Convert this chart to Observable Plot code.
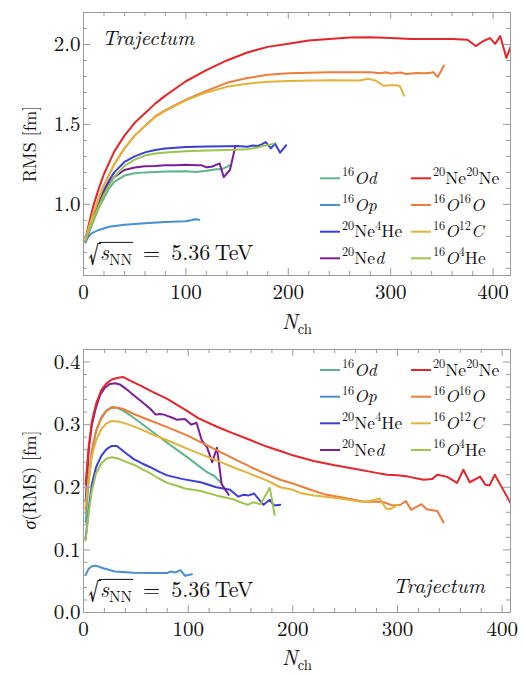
<!DOCTYPE html>
<html>
<head>
<meta charset="utf-8">
<script src="https://cdn.jsdelivr.net/npm/d3@7"></script>
<script src="https://cdn.jsdelivr.net/npm/@observablehq/plot@0.6"></script>
<style>
  html, body { margin: 0; padding: 0; background: white; }
  #fig svg { display: block; }
</style>
</head>
<body>
<div id="fig"></div>
<script>
// ---------- series names / colours ----------
const seriesNames = ["16Od", "16Op", "20Ne4He", "20Ned", "20Ne20Ne", "16O16O", "16O12C", "16O4He"];
const seriesColors = ["#5cb58b", "#4a8fd1", "#3a3fd6", "#7a1f96", "#e3262b", "#ef7d3a", "#e2b33c", "#9cc44f"];

// ---------- top panel: RMS [fm] vs Nch ----------
const rmsOd = [[2,0.76],[5,0.82],[10,0.90],[15,0.98],[20,1.04],[25,1.10],[30,1.14],[40,1.18],[50,1.195],[60,1.20],[80,1.205],[100,1.207],[110,1.203],[120,1.21],[130,1.22],[135,1.22],[140,1.235],[143,1.245]];
const rmsOp = [[2,0.765],[4,0.79],[8,0.82],[15,0.84],[25,0.86],[40,0.873],[60,0.882],[80,0.889],[100,0.895],[105,0.90],[108,0.907],[113,0.903]];
const rmsNeHe = [[2,0.77],[5,0.83],[10,0.92],[15,1.01],[20,1.09],[25,1.15],[30,1.20],[40,1.265],[50,1.30],[60,1.325],[70,1.34],[80,1.35],[100,1.358],[120,1.362],[140,1.364],[150,1.365],[160,1.36],[165,1.368],[170,1.365],[174,1.375],[178,1.39],[183,1.35],[187,1.38],[192,1.323],[198,1.37]];
const rmsNed = [[2,0.77],[5,0.83],[10,0.92],[15,1.00],[20,1.07],[25,1.13],[30,1.17],[40,1.215],[50,1.23],[60,1.238],[70,1.24],[80,1.245],[90,1.245],[100,1.247],[110,1.245],[115,1.245],[120,1.232],[125,1.235],[133,1.256],[137,1.17],[143,1.215],[148,1.354]];
const rmsNeNe = [[2,0.79],[5,0.87],[10,1.0],[15,1.10],[20,1.19],[30,1.33],[40,1.43],[50,1.51],[60,1.57],[70,1.63],[80,1.68],[100,1.77],[120,1.84],[140,1.90],[160,1.95],[180,1.985],[200,2.005],[220,2.025],[240,2.035],[260,2.043],[280,2.045],[300,2.04],[320,2.035],[340,2.035],[360,2.035],[375,2.03],[383,1.99],[390,2.02],[397,2.04],[402,2.004],[407,2.052],[413,1.916],[418,2.0]];
const rmsOO = [[2,0.78],[5,0.85],[10,0.95],[15,1.04],[20,1.12],[30,1.25],[40,1.35],[50,1.43],[60,1.49],[70,1.55],[80,1.59],[100,1.655],[120,1.71],[140,1.76],[160,1.79],[180,1.81],[200,1.82],[240,1.827],[280,1.826],[290,1.82],[295,1.826],[300,1.818],[310,1.825],[315,1.815],[325,1.822],[335,1.82],[342,1.826],[346,1.796],[352,1.868]];
const rmsOC = [[2,0.78],[5,0.85],[10,0.95],[15,1.04],[20,1.12],[30,1.25],[40,1.35],[50,1.43],[60,1.49],[70,1.545],[80,1.585],[100,1.65],[120,1.70],[140,1.735],[160,1.755],[180,1.767],[200,1.772],[240,1.777],[270,1.775],[278,1.786],[285,1.775],[293,1.742],[300,1.745],[305,1.745],[309,1.74],[313,1.68]];
const rmsOHe = [[2,0.77],[5,0.83],[10,0.91],[15,0.99],[20,1.06],[25,1.12],[30,1.17],[40,1.24],[50,1.28],[60,1.305],[70,1.318],[80,1.325],[100,1.332],[120,1.337],[140,1.34],[160,1.345],[170,1.355],[175,1.365],[180,1.37],[186,1.38]];

// ---------- bottom panel: sigma(RMS) [fm] vs Nch ----------
const sigOd = [[2,0.144],[5,0.21],[8,0.255],[12,0.29],[17,0.312],[22,0.323],[27,0.328],[32,0.327],[40,0.320],[48,0.311],[56,0.301],[64,0.291],[72,0.281],[80,0.271],[90,0.259],[100,0.247],[111,0.233],[118,0.224],[125,0.218],[131,0.208]];
const sigOp = [[2,0.060],[5,0.07],[8,0.074],[12,0.0748],[18,0.071],[30,0.0656],[48,0.0635],[65,0.063],[80,0.063],[83,0.0656],[88,0.064],[92.6,0.0677],[97,0.0587],[103.6,0.061]];
const sigNeHe = [[2,0.117],[5,0.165],[8,0.205],[12,0.232],[17,0.25],[22,0.261],[27,0.266],[32,0.266],[40,0.255],[48,0.245],[56,0.238],[64,0.232],[72,0.225],[80,0.219],[95,0.213],[112,0.208],[127,0.200],[140,0.196],[148,0.185],[153,0.188],[158,0.187],[163,0.190],[172,0.172],[178,0.180],[182,0.171],[188,0.172]];
const sigNed = [[2,0.176],[5,0.26],[8,0.30],[12,0.328],[16,0.348],[20,0.358],[25,0.365],[30,0.366],[35,0.364],[40,0.358],[48,0.347],[56,0.336],[64,0.325],[69,0.316],[73,0.317],[77,0.316],[80,0.314],[85,0.311],[89,0.308],[97,0.309],[103,0.300],[108,0.303],[113,0.275],[118,0.264],[123,0.240],[127.5,0.263],[132,0.205],[138.7,0.188]];
const sigNeNe = [[2,0.205],[5,0.265],[8,0.305],[12,0.333],[17,0.355],[22,0.366],[27,0.372],[33,0.375],[38,0.376],[45,0.370],[55,0.362],[65,0.353],[80,0.341],[97,0.324],[110,0.310],[127,0.297],[143,0.286],[160,0.275],[175,0.265],[188,0.258],[200,0.251],[220,0.242],[240,0.235],[260,0.229],[280,0.223],[290,0.220],[300,0.219],[310,0.217],[325,0.212],[333,0.213],[338,0.220],[347,0.217],[357,0.207],[363,0.228],[369,0.208],[379,0.217],[384,0.204],[388,0.203],[393,0.220],[398,0.205],[409,0.172]];
const sigOO = [[2,0.165],[5,0.22],[8,0.26],[12,0.29],[17,0.31],[22,0.322],[27,0.327],[33,0.327],[38,0.325],[48,0.317],[60,0.309],[80,0.296],[100,0.282],[112,0.272],[130,0.257],[143,0.246],[160,0.232],[175,0.221],[188,0.212],[200,0.206],[217,0.196],[230,0.189],[250,0.183],[268,0.177],[280,0.177],[287,0.176],[295,0.171],[303,0.172],[308,0.178],[313,0.164],[323,0.173],[328,0.165],[338,0.162],[344,0.144]];
const sigOC = [[2,0.17],[5,0.215],[8,0.25],[12,0.275],[17,0.293],[22,0.302],[27,0.306],[33,0.305],[40,0.302],[50,0.296],[65,0.285],[80,0.275],[100,0.261],[112,0.253],[130,0.241],[143,0.232],[160,0.221],[175,0.211],[188,0.200],[200,0.196],[207,0.191],[220,0.187],[236,0.184],[250,0.181],[265,0.177],[274,0.178],[283,0.182],[289,0.166],[293,0.165],[300,0.172]];
const sigOHe = [[2,0.115],[5,0.16],[8,0.195],[12,0.222],[17,0.238],[22,0.246],[27,0.248],[33,0.246],[40,0.241],[48,0.236],[56,0.229],[64,0.222],[72,0.214],[80,0.207],[90,0.202],[97,0.198],[112,0.194],[127,0.187],[143,0.181],[150,0.176],[157,0.172],[162,0.176],[169,0.173],[178,0.199],[182.6,0.156]];

const rmsSeries = [rmsOd, rmsOp, rmsNeHe, rmsNed, rmsNeNe, rmsOO, rmsOC, rmsOHe];
const sigSeries = [sigOd, sigOp, sigNeHe, sigNed, sigNeNe, sigOO, sigOC, sigOHe];

// ---------- ticks ----------
const xMajor = [0, 100, 200, 300, 400];
const xMinor = [20,40,60,80,120,140,160,180,220,240,260,280,320,340,360,380];
const xTickLabels = ["0", "100", "200", "300", "400"];
const yMajorTop = [1.0, 1.5, 2.0];
const yMinorTop = [0.6,0.7,0.8,0.9,1.1,1.2,1.3,1.4,1.6,1.7,1.8,1.9,2.1];
const yTickLabelsTop = ["1.0", "1.5", "2.0"];
const yMajorBot = [0.0, 0.1, 0.2, 0.3, 0.4];
const yMinorBot = [0.02,0.04,0.06,0.08,0.12,0.14,0.16,0.18,0.22,0.24,0.26,0.28,0.32,0.34,0.36,0.38];
const yTickLabelsBot = ["0.0", "0.1", "0.2", "0.3", "0.4"];

// ---------- legend text pieces ----------
const legendParts = [
  [["16","sup"],["Od","i"]],
  [["16","sup"],["Op","i"]],
  [["20","sup"],["Ne","n"],["4","sup"],["He","n"]],
  [["20","sup"],["Ne","n"],["d","i"]],
  [["20","sup"],["Ne","n"],["20","sup"],["Ne","n"]],
  [["16","sup"],["O","i"],["16","sup"],["O","i"]],
  [["16","sup"],["O","i"],["12","sup"],["C","i"]],
  [["16","sup"],["O","i"],["4","sup"],["He","n"]]
];

const FONT = "Latin Modern Roman, Liberation Serif, serif";
const GRAY = "#9a9a9a";
const W = 523;

function tickMarks(xMaj, xMin, yMaj, yMin, ph, pw) {
  const M = 7, m = 4, s = {stroke: GRAY, strokeWidth: 1};
  return [
    Plot.tickX(xMaj, {x: d => d, insetTop: ph - M, ...s}),
    Plot.tickX(xMaj, {x: d => d, insetBottom: ph - M, ...s}),
    Plot.tickX(xMin, {x: d => d, insetTop: ph - m, ...s}),
    Plot.tickX(xMin, {x: d => d, insetBottom: ph - m, ...s}),
    Plot.tickY(yMaj, {y: d => d, insetRight: pw - M, ...s}),
    Plot.tickY(yMaj, {y: d => d, insetLeft: pw - M, ...s}),
    Plot.tickY(yMin, {y: d => d, insetRight: pw - m, ...s}),
    Plot.tickY(yMin, {y: d => d, insetLeft: pw - m, ...s})
  ];
}

function panel({height, mt, mb, xDomain, yDomain, series, yMaj, yMin, yLabels, yFmtPad}) {
  const ml = 83, mr = 13;
  const ph = height - mt - mb, pw = W - ml - mr;
  return Plot.plot({
    width: W, height,
    marginLeft: ml, marginRight: mr, marginTop: mt, marginBottom: mb,
    style: {background: "white", color: "#111", overflow: "visible"},
    x: {domain: xDomain},
    y: {domain: yDomain},
    marks: [
      ...series.map((arr, i) => Plot.line(arr, {x: d => d[0], y: d => d[1], stroke: seriesColors[i], strokeWidth: 2, clip: true})),
      Plot.frame({stroke: GRAY, strokeWidth: 1}),
      ...tickMarks(xMajor, xMinor, yMaj, yMin, ph, pw),
      Plot.axisX({ticks: xMajor, tickFormat: (d, i) => xTickLabels[i], tickSize: 0, tickPadding: 9, fontSize: 21, label: null, fill: "#111"}),
      Plot.axisY({ticks: yMaj, tickFormat: (d, i) => yLabels[i], tickSize: 0, tickPadding: yFmtPad, fontSize: 21, label: null, fill: "#111"})
    ]
  });
}

function setFont(svg) {
  svg.setAttribute("font-family", FONT);
  d3.select(svg).selectAll("text").attr("font-family", FONT).style("font-family", FONT);
}

function rich(sel, x, y, parts, size, opts = {}) {
  const t = sel.append("text")
    .attr("x", x).attr("y", y)
    .attr("font-family", FONT).style("font-family", FONT)
    .attr("font-size", size)
    .attr("fill", "#111")
    .attr("text-anchor", opts.anchor || "start");
  if (opts.rotate != null) t.attr("transform", `rotate(${opts.rotate} ${x} ${y})`);
  let off = 0;
  for (const [str, kind] of parts) {
    let target = 0, fs = size;
    if (kind === "sup") { target = -0.42 * size; fs = 0.7 * size; }
    if (kind === "sub") { target = 0.24 * size; fs = 0.7 * size; }
    const ts = t.append("tspan").attr("dy", target - off).attr("font-size", fs).text(str);
    if (kind === "i") ts.attr("font-style", "italic");
    off = target;
  }
  return t;
}

function sqrtLabel(sel, x, y, size) {
  const t = sel.append("text").attr("x", x).attr("y", y)
    .attr("font-family", FONT).style("font-family", FONT)
    .attr("text-anchor", "start")
    .attr("font-size", size).attr("fill", "#111");
  t.append("tspan").attr("font-size", size * 1.15).attr("dy", 2).text("√");
  t.append("tspan").attr("font-style", "italic").attr("dy", -2).text("s");
  t.append("tspan").attr("dy", 0.24 * size).attr("font-size", 0.7 * size).text("NN");
  t.append("tspan").attr("dy", -0.24 * size).text("\u2002=\u20025.36\u2009TeV");
  const n = t.node();
  let x0 = x + 0.8 * size, x1 = x + 2.3 * size;
  try {
    x0 = n.getEndPositionOfChar(0).x;
    x1 = n.getEndPositionOfChar(3).x;
  } catch (e) {}
  sel.append("line").attr("x1", x0 - 1).attr("x2", x1 + 1)
    .attr("y1", y - 0.8 * size).attr("y2", y - 0.8 * size)
    .attr("stroke", "#111").attr("stroke-width", 1);
}

function legend(sel, rows) {
  const cols = [320, 411];
  for (let i = 0; i < 8; i++) {
    const c = Math.floor(i / 4), r = i % 4;
    const yy = rows[r];
    sel.append("line").attr("x1", cols[c]).attr("x2", cols[c] + 20)
      .attr("y1", yy).attr("y2", yy)
      .attr("stroke", seriesColors[i]).attr("stroke-width", 2);
    rich(sel, cols[c] + 22, yy + 5.5, legendParts[i], 17.5);
  }
}

const fig = document.getElementById("fig");

// top panel
const topSvg = panel({height: 336, mt: 12, mb: 61, xDomain: [0, 417], yDomain: [0.555, 2.2],
  series: rmsSeries, yMaj: yMajorTop, yMin: yMinorTop, yLabels: yTickLabelsTop, yFmtPad: 3});
fig.appendChild(topSvg);
setFont(topSvg);
const st = d3.select(topSvg);
rich(st, 36, 144, [["RMS [fm]", "n"]], 18, {anchor: "middle", rotate: -90});
rich(st, 297, 329, [["N", "i"], ["ch", "sub"]], 21, {anchor: "middle"});
rich(st, 102, 45, [["Trajectum", "i"]], 21);
sqrtLabel(st, 88, 260, 22);
legend(st, [178.3, 205, 231.7, 258.3]);

// bottom panel
const botSvg = panel({height: 341, mt: 13, mb: 65, xDomain: [0, 408], yDomain: [0, 0.42],
  series: sigSeries, yMaj: yMajorBot, yMin: yMinorBot, yLabels: yTickLabelsBot, yFmtPad: 3});
fig.appendChild(botSvg);
setFont(botSvg);
const sb = d3.select(botSvg);
const oy = 336;
rich(sb, 36, 480 - oy, [["σ", "i"], ["(RMS) [fm]", "n"]], 18, {anchor: "middle", rotate: -90});
rich(sb, 297, 665 - oy, [["N", "i"], ["ch", "sub"]], 21, {anchor: "middle"});
rich(sb, 485, 593 - oy, [["Trajectum", "i"]], 21, {anchor: "end"});
sqrtLabel(sb, 88, 597 - oy, 22);
legend(sb, [370 - oy, 396.7 - oy, 423.3 - oy, 450 - oy]);
</script>
</body>
</html>
